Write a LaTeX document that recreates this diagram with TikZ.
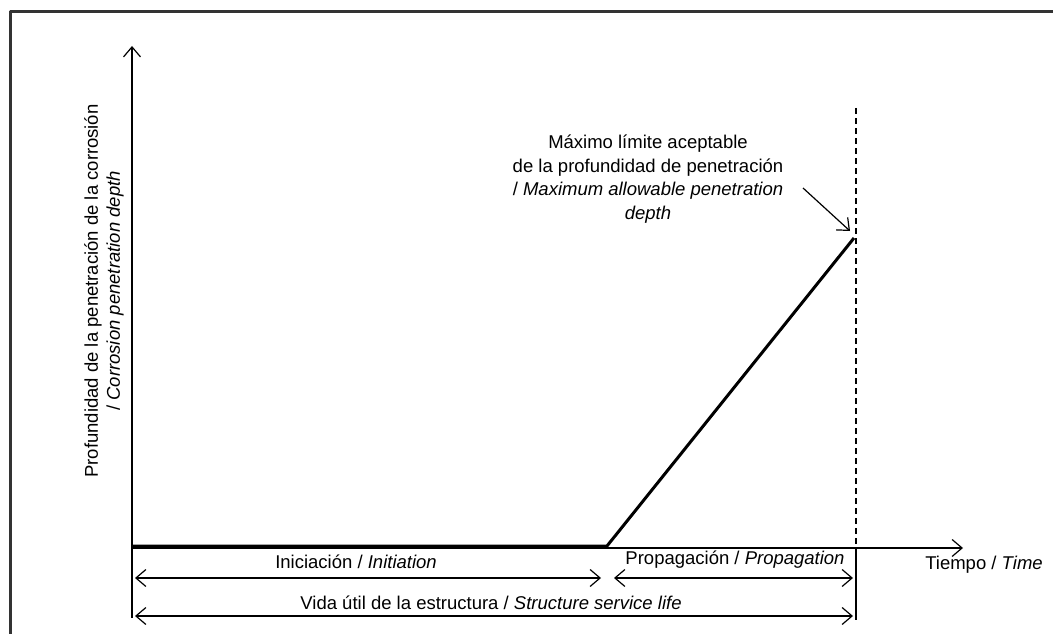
\documentclass[tikz,border=0pt]{standalone}
\usepackage{fontspec}
\setmainfont{Liberation Sans}
\usetikzlibrary{arrows.meta}
\begin{document}
\begin{tikzpicture}[x=1pt,y=-1pt, font=\fontsize{18.5}{23.5}\selectfont, line join=round, line width=1.2pt, >={Straight Barb[length=10pt,width=17pt]}]
            \def\xO{132}\def\yO{548}\def\xk{607}\def\xe{856}\def\ya{578}\def\yb{616}
            \useasboundingbox (0,0) rectangle (1053,634);
            \draw[line width=3pt,black!80] (10,634)--(10,12)--(1053,12);
            % ejes
            \coordinate (O) at (\xO,\yO);
            \coordinate (ytop) at (\xO,46);
            \coordinate (ybot) at (\xO,618);
            \coordinate (xtip) at (963,\yO);
            \draw[->] (ybot)--(ytop);
            \draw[->] (O)--(xtip);
            \node (tlab) at (984,565) {Tiempo / \textit{Time}};
            \node[rotate=90,align=center,font=\fontsize{18.5}{22}\selectfont] (ylab) at (104,291) {Profundidad de la penetración de la corrosión\\/ \textit{Corrosion penetration depth}};
            % curva
            \coordinate (c0) at (\xO,546);
            \coordinate (ck) at (\xk,546);
            \coordinate (cmax) at (854,238);
            \draw[line width=3pt] (c0)--(ck)--(cmax);
            % limite
            \coordinate (dtop) at (\xe,108);
            \coordinate (daxis) at (\xe,\yO);
            \coordinate (dbot) at (\xe,620);
            \draw[dash pattern=on 6pt off 4pt] (dtop)--(daxis);
            \draw (daxis)--(dbot);
            \node[align=center] (maxlab) at (648,179) {Máximo límite aceptable\\de la profundidad de penetración\\/ \textit{Maximum allowable penetration}\\\textit{depth}};
            \coordinate (ps) at (803,188);
            \coordinate (pe) at (850,231);
            \draw[->] (ps)--(pe);
            % intervalos
            \coordinate (a0) at (135,\ya);\coordinate (a1) at (601,\ya);
            \coordinate (p0) at (614,\ya);\coordinate (p1) at (853,\ya);
            \coordinate (v0) at (135,\yb);\coordinate (v1) at (853,\yb);
            \draw[<->] (a0)--(a1);
            \draw[<->] (p0)--(p1);
            \draw[<->] (v0)--(v1);
            \node (lini) at (356,562) {Iniciación / \textit{Initiation}};
            \node (lprop) at (735,560) {Propagación / \textit{Propagation}};
            \node (lvida) at (491,603) {Vida útil de la estructura / \textit{Structure service life}};
    \end{tikzpicture}
\end{document}
